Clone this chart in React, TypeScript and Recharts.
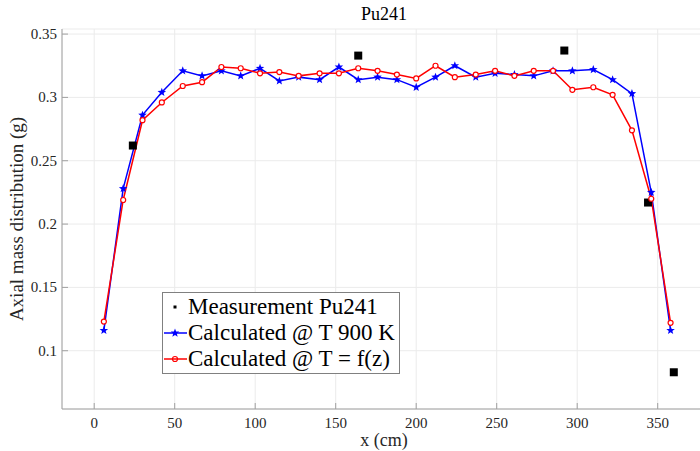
import { ComposedChart, Line, Scatter, XAxis, YAxis, CartesianGrid, Legend } from "recharts";

// axial positions of the calculated nodes (cm)
const positions = [6, 18, 30, 42, 55, 67, 79, 91, 103, 115, 127, 140, 152, 164, 176, 188, 200, 212, 224, 237, 249, 261, 273, 285, 297, 310, 322, 334, 346, 358];

const calc900K = [0.116, 0.228, 0.286, 0.304, 0.321, 0.317, 0.321, 0.317, 0.323, 0.313, 0.316, 0.314, 0.324, 0.314, 0.316, 0.314, 0.308, 0.316, 0.325, 0.316, 0.319, 0.318, 0.317, 0.321, 0.321, 0.322, 0.314, 0.303, 0.225, 0.116];
const calcTz = [0.123, 0.219, 0.282, 0.296, 0.309, 0.312, 0.324, 0.323, 0.319, 0.320, 0.317, 0.319, 0.319, 0.323, 0.321, 0.318, 0.315, 0.325, 0.316, 0.318, 0.321, 0.317, 0.321, 0.321, 0.306, 0.308, 0.302, 0.274, 0.220, 0.122];

const measX = [24, 164, 292, 344, 360];
const measY = [0.262, 0.333, 0.337, 0.217, 0.083];

const xTicks = [0, 50, 100, 150, 200, 250, 300, 350];
const yTicks = [0.1, 0.15, 0.2, 0.25, 0.3, 0.35];

const seriesNames = ["Measurement Pu241", "Calculated @ T 900 K", "Calculated @ T = f(z)"];

const blueData = positions.map((x, i) => ({ x, y: calc900K[i] }));
const redData = positions.map((x, i) => ({ x, y: calcTz[i] }));
const measData = measX.map((x, i) => ({ x, y: measY[i] }));

const FONT = '"Liberation Serif", "DejaVu Serif", serif';
const AXIS = "#a0a0a0";
const TEXT = "#262626";
const BLUE = "#0000ff";
const RED = "#ff0000";

function starPath(cx: number, cy: number, r: number) {
  const pts: string[] = [];
  for (let k = 0; k < 10; k++) {
    const rad = k % 2 === 0 ? r : r * 0.42;
    const a = -Math.PI / 2 + (k * Math.PI) / 5;
    pts.push(`${(cx + rad * Math.cos(a)).toFixed(2)},${(cy + rad * Math.sin(a)).toFixed(2)}`);
  }
  return "M" + pts.join("L") + "Z";
}

function XTick(props: any) {
  const { x, y, payload } = props;
  return (
    <g>
      <line x1={x} x2={x} y1={y} y2={y - 6} stroke={AXIS} />
      <text x={x} y={y + 19} textAnchor="middle" fontFamily={FONT} fontSize={15} fill={TEXT}>
        {payload.value}
      </text>
    </g>
  );
}

function YTick(props: any) {
  const { x, y, payload } = props;
  return (
    <g>
      <line x1={x} x2={x + 6} y1={y} y2={y} stroke={AXIS} />
      <text x={x - 5} y={y + 5} textAnchor="end" fontFamily={FONT} fontSize={15} fill={TEXT}>
        {payload.value}
      </text>
    </g>
  );
}

function SquareShape(props: any) {
  const { cx, cy } = props;
  return <rect x={cx - 4} y={cy - 4} width={8} height={8} fill="#000" />;
}

function LegendBox() {
  const row = { display: "flex", alignItems: "center", height: 26 } as const;
  const label = { fontFamily: FONT, fontSize: 23, lineHeight: "22px", color: "#000", whiteSpace: "nowrap" } as const;
  return (
    <div style={{ background: "#fff", border: "1px solid #808080", paddingRight: 4, paddingTop: 1, paddingBottom: 1 }}>
      <div style={row}>
        <svg width={25} height={26}>
          <rect x={10.5} y={11.5} width={3} height={3} fill="#000" />
        </svg>
        <span style={label}>{seriesNames[0]}</span>
      </div>
      <div style={row}>
        <svg width={25} height={26}>
          <line x1={1} x2={24} y1={13} y2={13} stroke={BLUE} strokeWidth={1.5} />
          <path d={starPath(12, 13, 4.5)} fill={BLUE} />
        </svg>
        <span style={label}>{seriesNames[1]}</span>
      </div>
      <div style={row}>
        <svg width={25} height={26}>
          <line x1={1} x2={24} y1={13} y2={13} stroke={RED} strokeWidth={1.5} />
          <circle cx={12} cy={13} r={2.5} fill="none" stroke={RED} strokeWidth={1.2} />
        </svg>
        <span style={label}>{seriesNames[2]}</span>
      </div>
    </div>
  );
}

export default function App() {
  return (
    <div style={{ position: "fixed", left: 0, top: 0, width: 700, height: 451, overflow: "hidden", background: "#fff" }}>
      <ComposedChart width={720} height={451} margin={{ top: 29, right: 14, bottom: 0, left: 0 }}>
        <CartesianGrid stroke="#ebebeb" />
        <XAxis
          type="number"
          dataKey="x"
          domain={[-20, 380]}
          ticks={xTicks}
          allowDataOverflow
          height={42}
          stroke={AXIS}
          tickLine={false}
          tickSize={0}
          tickMargin={0}
          tick={<XTick />}
        />
        <YAxis
          type="number"
          dataKey="y"
          domain={[0.054, 0.354]}
          ticks={yTicks}
          allowDataOverflow
          width={62}
          stroke={AXIS}
          tickLine={false}
          tickSize={0}
          tickMargin={0}
          tick={<YTick />}
        />
        <Line
          data={blueData}
          dataKey="y"
          name={seriesNames[1]}
          stroke={BLUE}
          strokeWidth={1.5}
          isAnimationActive={false}
          dot={(p: any) => <path key={`b${p.index}`} d={starPath(p.cx, p.cy, 4.5)} fill={BLUE} />}
        />
        <Line
          data={redData}
          dataKey="y"
          name={seriesNames[2]}
          stroke={RED}
          strokeWidth={1.5}
          isAnimationActive={false}
          dot={(p: any) => <circle key={`r${p.index}`} cx={p.cx} cy={p.cy} r={2.5} fill="#fff" stroke={RED} strokeWidth={1.2} />}
        />
        <Scatter data={measData} dataKey="y" name={seriesNames[0]} shape={<SquareShape />} isAnimationActive={false} />
        <Legend
          layout="vertical"
          align="center"
          verticalAlign="middle"
          content={<LegendBox />}
          wrapperStyle={{ left: 162, top: 292, width: "auto", right: "auto", bottom: "auto" }}
        />
        <text x={384} y={20} textAnchor="middle" fontFamily={FONT} fontSize={18} fill="#000">Pu241</text>
        <text x={384} y={446} textAnchor="middle" fontFamily={FONT} fontSize={18} fill={TEXT}>x (cm)</text>
        <text x={23} y={219} textAnchor="middle" fontFamily={FONT} fontSize={19} fill={TEXT} transform="rotate(-90 23 219)">
          Axial mass distribution (g)
        </text>
      </ComposedChart>
    </div>
  );
}
